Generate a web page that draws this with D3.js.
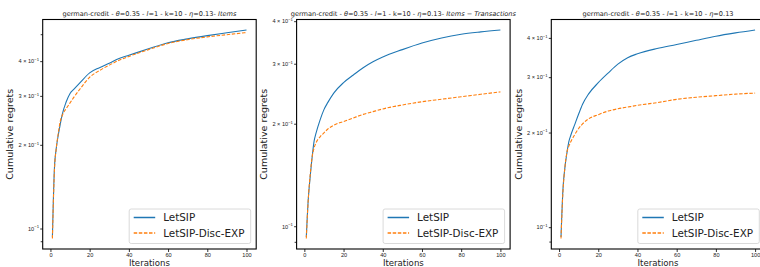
<!DOCTYPE html>
<html>
<head>
<meta charset="utf-8">
<script src="https://cdn.jsdelivr.net/npm/d3@7"></script>
<style>
  body { margin: 0; background: #fff; }
  svg { display: block; font-family: "DejaVu Sans", sans-serif; }
  .spine { fill: none; stroke: #000; stroke-width: 1.1; }
  .tick line { stroke: #000; stroke-width: 0.8; }
  .tick text { font-size: 5.6px; fill: #222; }
</style>
</head>
<body>
<div id="chart"></div>
<script>
const iterations = [1, 2, 3, 4, 5, 6, 8, 10, 12, 15, 20, 25, 30, 35, 40, 50, 60, 70, 80, 90, 100];

// panel 1 : Items
const itemsLetSIP = [0.093, 0.163, 0.195, 0.217, 0.237, 0.257, 0.285, 0.306, 0.317, 0.334, 0.363, 0.379, 0.393, 0.409, 0.420, 0.443, 0.466, 0.481, 0.494, 0.506, 0.518];
const itemsDisc   = [0.092, 0.160, 0.195, 0.220, 0.243, 0.255, 0.270, 0.283, 0.297, 0.317, 0.350, 0.370, 0.387, 0.403, 0.416, 0.440, 0.463, 0.478, 0.489, 0.498, 0.507];

// panel 2 : Items - Transactions
const transLetSIP = [0.093, 0.120, 0.140, 0.160, 0.178, 0.188, 0.205, 0.220, 0.231, 0.246, 0.264, 0.278, 0.292, 0.304, 0.314, 0.330, 0.345, 0.357, 0.366, 0.372, 0.377];
const transDisc   = [0.092, 0.120, 0.142, 0.160, 0.170, 0.176, 0.183, 0.188, 0.193, 0.198, 0.203, 0.208, 0.213, 0.217, 0.221, 0.227, 0.232, 0.236, 0.240, 0.244, 0.248];

// panel 3 : no suffix
const plainLetSIP = [0.093, 0.132, 0.155, 0.172, 0.187, 0.196, 0.212, 0.229, 0.246, 0.265, 0.288, 0.309, 0.330, 0.346, 0.356, 0.370, 0.381, 0.393, 0.405, 0.415, 0.424];
const plainDisc   = [0.092, 0.130, 0.155, 0.173, 0.181, 0.187, 0.197, 0.206, 0.213, 0.221, 0.228, 0.234, 0.238, 0.241, 0.244, 0.249, 0.255, 0.259, 0.262, 0.265, 0.267];

const titleSuffixes = ["Items", "Items \u2212 Transactions", ""];
const seriesNames = ["LetSIP", "LetSIP-Disc-EXP"];
const xTicks = [0, 20, 40, 60, 80, 100];
const yLabelledTicks = [0.1, 0.2, 0.3, 0.4];
const yPlainTicks = [0.09, 0.5];

const panels = [
  { suffix: titleSuffixes[0], a: itemsLetSIP, b: itemsDisc },
  { suffix: titleSuffixes[1], a: transLetSIP, b: transDisc },
  { suffix: titleSuffixes[2], a: plainLetSIP, b: plainDisc }
];

const W = 760, H = 267;
const lefts = [42.7, 296.6, 551.3];
const pw = 213.5, plotTop = 19.5, plotBottom = 249;
const colors = ["#1f77b4", "#ff7f0e"];

const svg = d3.select("#chart").append("svg")
  .attr("width", W).attr("height", H);

function supLabel(sel, v) {
  // matplotlib style: 10^-1 or m x 10^-1
  const e = Math.floor(Math.log10(v) + 1e-9);
  const m = Math.round(v / Math.pow(10, e));
  sel.text(null);
  sel.append("tspan").text(m === 1 ? "10" : m + " \u00d7 10");
  sel.append("tspan").attr("dy", -2.5).attr("font-size", "4.2px").text("\u2212" + Math.abs(e));
}

panels.forEach((p, i) => {
  const x0 = lefts[i];
  const g = svg.append("g");

  const x = d3.scaleLinear().domain([-3.95, 104.95]).range([x0, x0 + pw]);

  const all = p.a.concat(p.b).map(v => Math.log10(v));
  const lo = d3.min(all), hi = d3.max(all), r = hi - lo;
  const y = d3.scaleLog()
    .domain([Math.pow(10, lo - 0.05 * r), Math.pow(10, hi + 0.05 * r)])
    .range([plotBottom, plotTop]);

  // clip
  g.append("clipPath").attr("id", "clip" + i)
    .append("rect").attr("x", x0).attr("y", plotTop).attr("width", pw).attr("height", plotBottom - plotTop);

  const line = d3.line()
    .x((d, j) => x(iterations[j]))
    .y(d => y(d))
    .curve(d3.curveMonotoneX);

  g.append("path").datum(p.a)
    .attr("clip-path", "url(#clip" + i + ")")
    .attr("fill", "none").attr("stroke", colors[0]).attr("stroke-width", 1.1)
    .attr("d", line);
  g.append("path").datum(p.b)
    .attr("clip-path", "url(#clip" + i + ")")
    .attr("fill", "none").attr("stroke", colors[1]).attr("stroke-width", 1.1)
    .attr("stroke-dasharray", "3.5,1.6")
    .attr("d", line);

  // x axis
  const xa = g.append("g").attr("transform", "translate(0," + plotBottom + ")")
    .call(d3.axisBottom(x).tickValues(xTicks).tickSize(3).tickPadding(0.8).tickFormat(d3.format("d")));
  xa.select(".domain").remove();

  // y axis: labelled ticks + unlabelled minor ticks
  const [dmin, dmax] = y.domain();
  const ya = g.append("g").attr("transform", "translate(" + x0 + ",0)")
    .call(d3.axisLeft(y).tickValues(yLabelledTicks.filter(v => v >= dmin && v <= dmax))
      .tickSize(2.5).tickPadding(1.2));
  ya.select(".domain").remove();
  ya.selectAll(".tick text").each(function (d) { supLabel(d3.select(this), d); });
  const ym = g.append("g").attr("transform", "translate(" + x0 + ",0)")
    .call(d3.axisLeft(y).tickValues(yPlainTicks.filter(v => v >= dmin && v <= dmax))
      .tickSize(2).tickFormat(""));
  ym.select(".domain").remove();

  // spines
  g.append("rect").attr("class", "spine")
    .attr("x", x0).attr("y", plotTop).attr("width", pw).attr("height", plotBottom - plotTop);

  // title
  const cx = x0 + pw / 2;
  const t = g.append("text").attr("x", cx).attr("y", 15.5)
    .attr("text-anchor", "middle").attr("font-size", "6.6px").attr("fill", "#222");
  t.append("tspan").text("german-credit - ");
  t.append("tspan").attr("font-style", "italic").text("\u03b8");
  t.append("tspan").text("=0.35 - ");
  t.append("tspan").attr("font-style", "italic").text("l");
  t.append("tspan").text("=1 - k=10 - ");
  t.append("tspan").attr("font-style", "italic").text("\u03b7");
  t.append("tspan").text("=0.13");
  if (p.suffix) {
    t.append("tspan").text("- ");
    t.append("tspan").attr("font-style", "italic").text(p.suffix);
  }

  // axis labels
  g.append("text").attr("x", cx).attr("y", 266)
    .attr("text-anchor", "middle").attr("font-size", "8.6px").attr("fill", "#222")
    .text("Iterations");
  g.append("text")
    .attr("transform", "translate(" + (x0 - 29.5) + "," + ((plotTop + plotBottom) / 2) + ") rotate(-90)")
    .attr("text-anchor", "middle").attr("font-size", "9.5px").attr("fill", "#222")
    .text("Cumulative regrets");

  // legend
  const lx = x0 + 86.5, ly = 209, lw = 121.5, lh = 34.5;
  const lg = g.append("g");
  lg.append("rect").attr("x", lx).attr("y", ly).attr("width", lw).attr("height", lh)
    .attr("rx", 2).attr("fill", "#fff").attr("fill-opacity", 0.8)
    .attr("stroke", "#d0d0d0").attr("stroke-width", 0.8);
  seriesNames.forEach((name, k) => {
    const yy = ly + 8.5 + k * 15.5;
    lg.append("line").attr("x1", lx + 4.5).attr("x2", lx + 26).attr("y1", yy).attr("y2", yy)
      .attr("stroke", colors[k]).attr("stroke-width", 1.5)
      .attr("stroke-dasharray", k === 1 ? "3.5,1.6" : null);
    lg.append("text").attr("x", lx + 34).attr("y", yy + 3.8)
      .attr("font-size", "10.4px").attr("fill", "#222").text(name);
  });
});
</script>
</body>
</html>
